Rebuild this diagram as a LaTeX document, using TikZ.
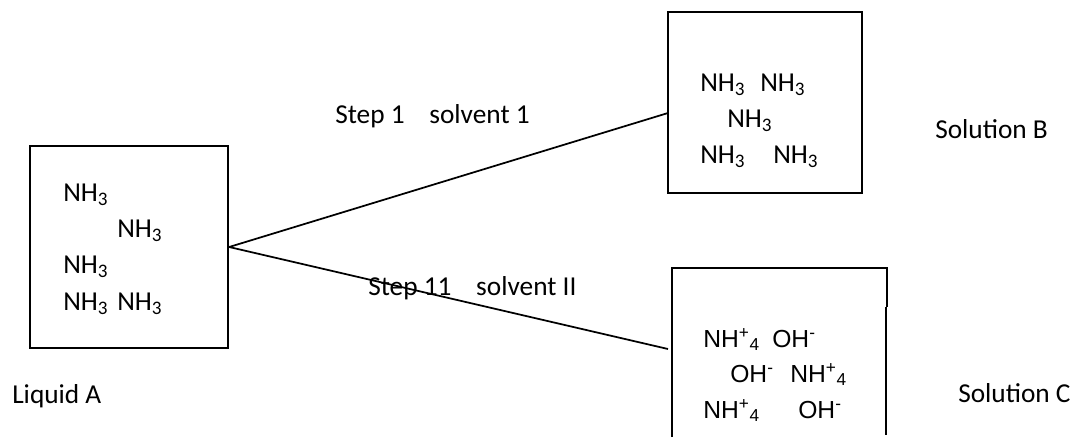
\documentclass[tikz,border=0pt]{standalone}
\usepackage{fontspec}
\setmainfont{Carlito}
\newfontfamily\ionfont{Liberation Sans}
\usetikzlibrary{calc}

\newcommand{\nhthree}{NH\textsubscript{3}}
\newcommand{\nhfour}{NH\textsuperscript{+}\textsubscript{4}}
\newcommand{\ohion}{OH\textsuperscript{-}}

\tikzset{
    box/.style={draw, line width=1.7pt, inner sep=0pt},
    conn/.style={line width=1.3pt},
    chem/.style={anchor=base west, inner sep=0pt, font=\fontsize{20.5}{24}\selectfont},
    ion/.style={anchor=base west, inner sep=0pt, font=\ionfont\fontsize{18.5}{22}\selectfont},
    lbl/.style={anchor=base west, inner sep=0pt, font=\fontsize{20.5}{24}\selectfont}
}

\begin{document}
\begin{tikzpicture}[x=0.75pt, y=-0.75pt]
    \useasboundingbox (0,0) rectangle (1074,439);

    \node[box, minimum width=148.5pt, minimum height=151.5pt] (boxA) at (129,247) {};
    \node[box, minimum width=145.5pt, minimum height=135.75pt] (boxB) at (765,102.5) {};
    \draw[line width=1.7pt] (672,437) |- (887,268) -- (887,307);
    \draw[line width=1pt] (886,307) -- (886,435);

    \coordinate (inB) at (668,113);
    \coordinate (inC) at (668,349);

    \draw[conn] (boxA.east) -- (inB);
    \draw[conn] (boxA.east) -- (inC);

    \foreach \x/\y [count=\i] in {63/201, 117/237, 63/273, 63/310, 117/310} {
        \node[chem] (a\i) at (\x,\y) {\nhthree};
    }
    \foreach \x/\y [count=\i] in {700/91, 760/91, 727/127, 700/163, 773/163} {
        \node[chem] (b\i) at (\x,\y) {\nhthree};
    }
    \foreach \x/\y [count=\i] in {703/347, 790/382, 703/418} {
        \node[ion] (cn\i) at (\x,\y) {\nhfour};
    }
    \foreach \x/\y [count=\i] in {772/347, 730/382, 798/418} {
        \node[ion] (co\i) at (\x,\y) {\ohion};
    }

    \node[lbl] (step1) at (335,123) {Step 1~~~~solvent 1};
    \node[lbl] (step2) at (368,295) {Step 11~~~~solvent II};
    \node[lbl] (liqA) at (12,403) {Liquid A};
    \node[lbl] (solB) at (935,138) {Solution B};
    \node[lbl] (solC) at (958,402) {Solution C};
\end{tikzpicture}
\end{document}
